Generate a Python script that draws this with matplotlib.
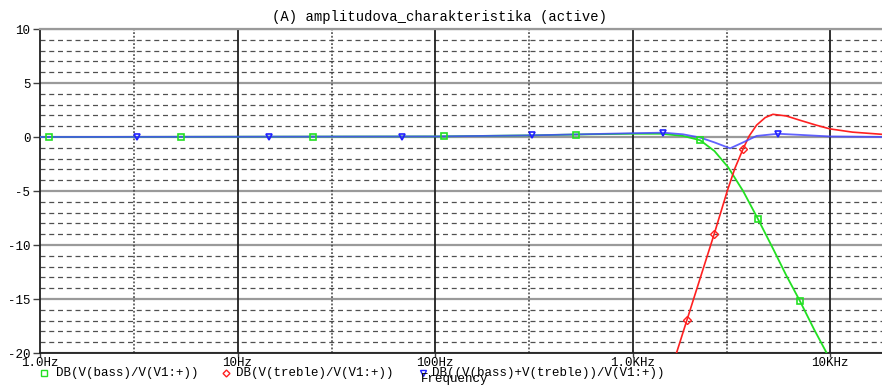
import numpy as np
import matplotlib
matplotlib.use("Agg")
import matplotlib.pyplot as plt
from matplotlib.lines import Line2D

# ---- data ----
bass_f  = [1, 100, 300, 600, 1000, 1400, 1800, 2200, 2600, 3050, 3630, 4320, 5200, 6000, 7050, 8300, 9620, 11000]
bass_db = [0.0, 0.05, 0.15, 0.25, 0.3, 0.3, 0.1, -0.3, -1.3, -2.8, -5.0, -7.6, -10.5, -12.8, -15.2, -17.8, -20.0, -22.2]

treble_f  = [1000, 1670, 1890, 2590, 3030, 3300, 3630, 3900, 4250, 4700, 5140, 6000, 7050, 8500, 10000, 13000, 18300, 20000]
treble_db = [-33.4, -20.0, -16.9, -9.0, -4.9, -2.9, -1.1, 0.1, 1.1, 1.8, 2.1, 1.95, 1.55, 1.1, 0.75, 0.45, 0.25, 0.2]

sum_f  = [1, 100, 300, 1000, 1430, 1800, 2200, 2600, 3120, 3630, 4250, 5460, 7000, 10000, 20000]
sum_db = [0.0, 0.05, 0.15, 0.35, 0.4, 0.25, -0.05, -0.5, -1.05, -0.5, 0.1, 0.3, 0.2, 0.05, 0.0]

bass_mk_f  = [1.11, 5.2, 24.2, 111, 516, 2200, 4320, 7050]
bass_mk_db = [0.0, 0.0, 0.0, 0.1, 0.2, -0.3, -7.6, -15.2]
treble_mk_f  = [1890, 2590, 3630]
treble_mk_db = [-16.9, -9.0, -1.1]
sum_mk_f  = [3.11, 14.5, 67.8, 309, 1430, 5460]
sum_mk_db = [0.0, 0.0, 0.0, 0.2, 0.4, 0.3]

xticks = [1, 10, 100, 1000, 10000]
xticklabels = ["1.0Hz", "10Hz", "100Hz", "1.0KHz", "10KHz"]
yticks = [10, 5, 0, -5, -10, -15, -20]
yticklabels = ["10", "5", "0", "-5", "-10", "-15", "-20"]

title = "(A) amplitudova_charakteristika (active)"
legend_labels = ["DB(V(bass)/V(V1:+))", "DB(V(treble)/V(V1:+))", "DB((V(bass)+V(treble))/V(V1:+))"]
xlabel = "Frequency"

MONO = "Liberation Mono"
FS = 9

W, H = 882, 385
fig = plt.figure(figsize=(W / 100, H / 100), dpi=100)
L, R, T, B = 40, 882, 29, 353
ax = fig.add_axes([L / W, 1 - B / H, (R - L) / W, (B - T) / H])
ax.set_xscale("log")
ax.set_xlim(1, 10 ** (842 / 197.5))
ax.set_ylim(-20, 10)

# grid
for d in range(-20, 11):
    if d % 5 == 0:
        ax.axhline(d, color="#9a9a9a", lw=1.6, zorder=1)
    else:
        ax.axhline(d, color="#505050", lw=0.9, ls=(0, (4, 3)), zorder=1)
for f in [10, 100, 1000, 10000]:
    ax.axvline(f, color="#202020", lw=1.3, zorder=1)
for f in [3, 30, 300, 3000]:
    ax.axvline(f, color="#404040", lw=1.1, ls=(0, (1.2, 1.2)), zorder=1)

ax.spines["right"].set_visible(False)
ax.spines["top"].set_color("#9a9a9a")
ax.spines["top"].set_linewidth(1.6)
ax.spines["left"].set_color("#202020")
ax.spines["left"].set_linewidth(1.3)
ax.spines["bottom"].set_color("#202020")
ax.spines["bottom"].set_linewidth(1.3)

# curves
ax.plot(bass_f, bass_db, color="#22e022", lw=1.3, zorder=3)
ax.plot(treble_f, treble_db, color="#ff2020", lw=1.2, zorder=3)
ax.plot(sum_f, sum_db, color="#4646ff", lw=1.3, zorder=4, alpha=0.85)

ax.plot(bass_mk_f, bass_mk_db, ls="none", marker="s", ms=5, mfc="none", mec="#22e022", mew=1.2, zorder=5)
ax.plot(treble_mk_f, treble_mk_db, ls="none", marker="D", ms=4, mfc="none", mec="#ff2020", mew=1.0, zorder=5)
ax.plot(sum_mk_f, sum_mk_db, ls="none", marker="v", ms=5, mfc="none", mec="#2020ff", mew=1.2, zorder=5)

ax.set_xticks(xticks)
ax.set_xticklabels(xticklabels, fontfamily=MONO, fontsize=FS)
ax.xaxis.set_minor_locator(matplotlib.ticker.NullLocator())
ax.set_yticks(yticks)
ax.set_yticklabels(yticklabels, fontfamily=MONO, fontsize=FS)
ax.tick_params(axis="y", direction="out", length=5, width=1.0, color="#404040", pad=2)
ax.tick_params(axis="x", direction="out", length=3, width=1.0, color="#404040", pad=0)

fig.text(440 / W, 1 - 17 / H, title, ha="center", va="center", fontfamily=MONO, fontsize=10)

# legend row
ly = 1 - 373 / H
items = [(44, "s", "#22e022", 56), (226, "D", "#ff2020", 236), (423, "v", "#2020ff", 432)]
for (mx, mk, col, tx), lab in zip(items, legend_labels):
    fig.add_artist(Line2D([mx / W], [ly], marker=mk, ms=4 if mk != "D" else 3.5, mfc="none",
                          mec=col, mew=1.0, ls="none", transform=fig.transFigure))
    fig.text(tx / W, ly, lab, ha="left", va="center", fontfamily=MONO, fontsize=FS)
fig.text(455 / W, 0.0, xlabel, ha="center", va="bottom", fontfamily=MONO, fontsize=FS)

fig.savefig("out.png", dpi=100)
